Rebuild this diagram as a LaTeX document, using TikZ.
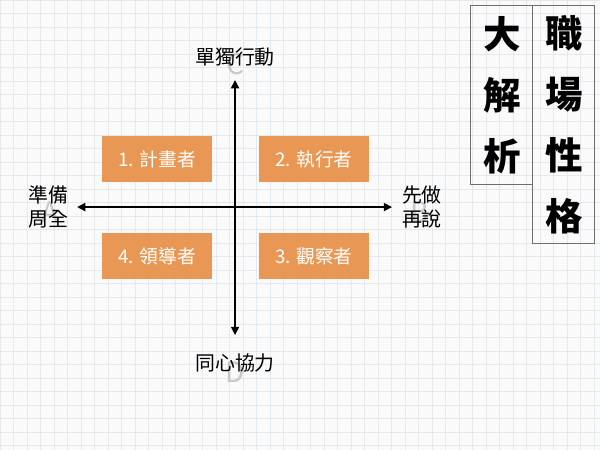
\documentclass[tikz,border=0pt]{standalone}
\usepackage{fontspec}
\setmainfont{Noto Sans CJK TC}
\usetikzlibrary{arrows.meta}
\definecolor{rolefill}{RGB}{232,152,84}
\definecolor{gridcolor}{RGB}{228,233,238}
\definecolor{ghostcolor}{RGB}{200,200,200}
\definecolor{framecolor}{RGB}{110,110,110}

\begin{document}
\begin{tikzpicture}[
	x=0.03cm, y=-0.03cm,
	role/.style={fill=rolefill, text=white, minimum width=3.3cm, minimum height=1.38cm, font=\fontsize{16}{18}\selectfont},
	axislabel/.style={font=\fontsize{17}{21}\selectfont, align=center},
	ghost/.style={text=ghostcolor, font=\fontsize{24}{24}\selectfont},
	title/.style={draw=framecolor, line width=1pt, align=center, anchor=north, inner sep=0pt, minimum width=1.86cm, font=\bfseries\fontsize{32}{52}\selectfont},
	axis/.style={line width=1.2pt, {Triangle[length=7pt,width=7pt]}-{Triangle[length=7pt,width=7pt]}},
]
\fill[white!96!gray] (0,0) rectangle (600,450);
\draw[gridcolor, line width=0.3pt, step=0.405cm] (0,0) grid (600,450);
\useasboundingbox (0,0) rectangle (600,450);
% faint letters behind the axis labels
\node[ghost] (gC) at (235,64) {C};
\node[ghost] (gD) at (235,372) {D};
\node[ghost] (gA) at (50,212) {A};
\node[ghost] (gB) at (420,212) {B};
% axes
\coordinate (top) at (235,80);
\coordinate (bottom) at (235,335);
\coordinate (left) at (77,207);
\coordinate (right) at (392,207);
\draw[axis] (top) -- (bottom);
\draw[axis] (left) -- (right);
\node[axislabel] (lt) at (235,57) {單獨行動};
\node[axislabel] (lb) at (235,363) {同心協力};
\node[axislabel] (ll) at (48,207) {準備\\周全};
\node[axislabel] (lr) at (422,207) {先做\\再說};
% quadrants
\node[role] (plan) at (157,159) {1. 計畫者};
\node[role] (exec) at (314,159) {2. 執行者};
\node[role] (lead) at (157,256) {4. 領導者};
\node[role] (watch) at (314,256) {3. 觀察者};
% titles
\node[title, minimum height=5.37cm] (big) at (502,5) {大\\解\\析};
\node[title, minimum height=7.14cm] (work) at (564,5) {職\\場\\性\\格};
\end{tikzpicture}
\end{document}
